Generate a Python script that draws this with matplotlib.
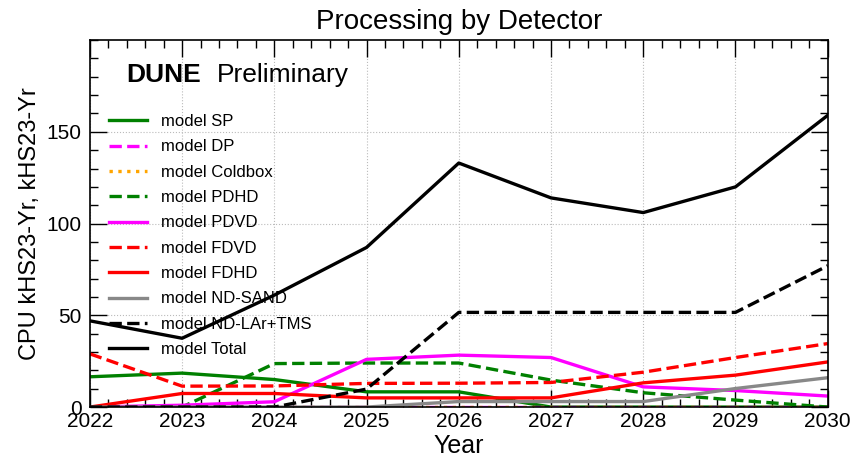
import numpy as np
from matplotlib import pyplot as plt

plt.rcParams['font.family'] = ['Liberation Sans', 'DejaVu Sans']

years = [2022, 2023, 2024, 2025, 2026, 2027, 2028, 2029, 2030]

sp = [16.5, 18.5, 15, 8.3, 8.3, 0, 0, 0, 0]
dp = [0, 0, 0, 0, 0, 0, 0, 0, 0]
coldbox = [0, 0, 0, 0, 0, 0, 0, 0, 0]
pdhd = [0, 0, 23.7, 24, 24, 14.7, 7.8, 3.8, 0]
pdvd = [0, 1, 2.9, 26, 28.3, 27, 11, 9, 6]
fdvd = [29, 11.4, 11.5, 12.9, 13, 13.4, 19, 27, 34.6]
fdhd = [0, 7.4, 7.4, 5, 5, 5, 13.2, 17.4, 24.6]
nd_sand = [0, 0, 0, 0, 3, 3, 3, 10.1, 16]
nd_lar = [0, 0, 0, 9.8, 51.6, 51.6, 51.6, 51.6, 77]
total = [47, 37.5, 61, 87, 133, 114, 106, 120, 159]

fig = plt.figure(figsize=(8.64, 4.61), dpi=100)
ax = fig.add_axes([0.104, 0.117, 0.854, 0.796])

lw = 2.4
ax.plot(years, sp, color='#008000', lw=lw, label='model SP')
ax.plot(years, dp, color='#ff00ff', lw=lw, ls='--', label='model DP')
ax.plot(years, coldbox, color='#ffa500', lw=lw, ls=':', label='model Coldbox')
ax.plot(years, pdhd, color='#008000', lw=lw, ls='--', label='model PDHD')
ax.plot(years, pdvd, color='#ff00ff', lw=lw, label='model PDVD')
ax.plot(years, fdvd, color='#ff0000', lw=lw, ls='--', label='model FDVD')
ax.plot(years, fdhd, color='#ff0000', lw=lw, label='model FDHD')
ax.plot(years, nd_sand, color='#888888', lw=lw, label='model ND-SAND')
ax.plot(years, nd_lar, color='black', lw=lw, ls='--', label='model ND-LAr+TMS')
ax.plot(years, total, color='black', lw=lw, label='model Total')

ax.set_xlim(2022, 2030)
ax.set_ylim(0, 200)
ax.set_xticks(years)
ax.set_xticks(np.arange(2022, 2030.01, 0.2), minor=True)
ax.set_yticks([0, 50, 100, 150])
ax.set_yticks(np.arange(0, 201, 10), minor=True)
ax.tick_params(which='both', direction='in', top=True, right=True,
               labelsize=15)
ax.tick_params(axis='y', pad=6)
ax.tick_params(which='major', length=12, width=1)
ax.tick_params(which='minor', length=6, width=1)
ax.grid(True, which='major', ls=':', color='#bbbbbb', lw=0.8)
for s in ax.spines.values():
    s.set_linewidth(1.2)

ax.set_title('Processing by Detector', fontsize=20, pad=8)
ax.set_xlabel('Year', fontsize=18, labelpad=2)
ax.set_ylabel('CPU kHS23-Yr, kHS23-Yr', fontsize=17)

ax.text(0.05, 0.905, 'DUNE', transform=ax.transAxes, fontsize=19,
        fontweight='bold', va='center')
ax.text(0.172, 0.905, 'Preliminary', transform=ax.transAxes, fontsize=19,
        va='center')

ax.legend(loc='upper left', bbox_to_anchor=(0.01, 0.83), frameon=False,
          fontsize=12, handlelength=2.3, handletextpad=0.8,
          labelspacing=0.62, borderaxespad=0.3)

fig.savefig('out.png')
